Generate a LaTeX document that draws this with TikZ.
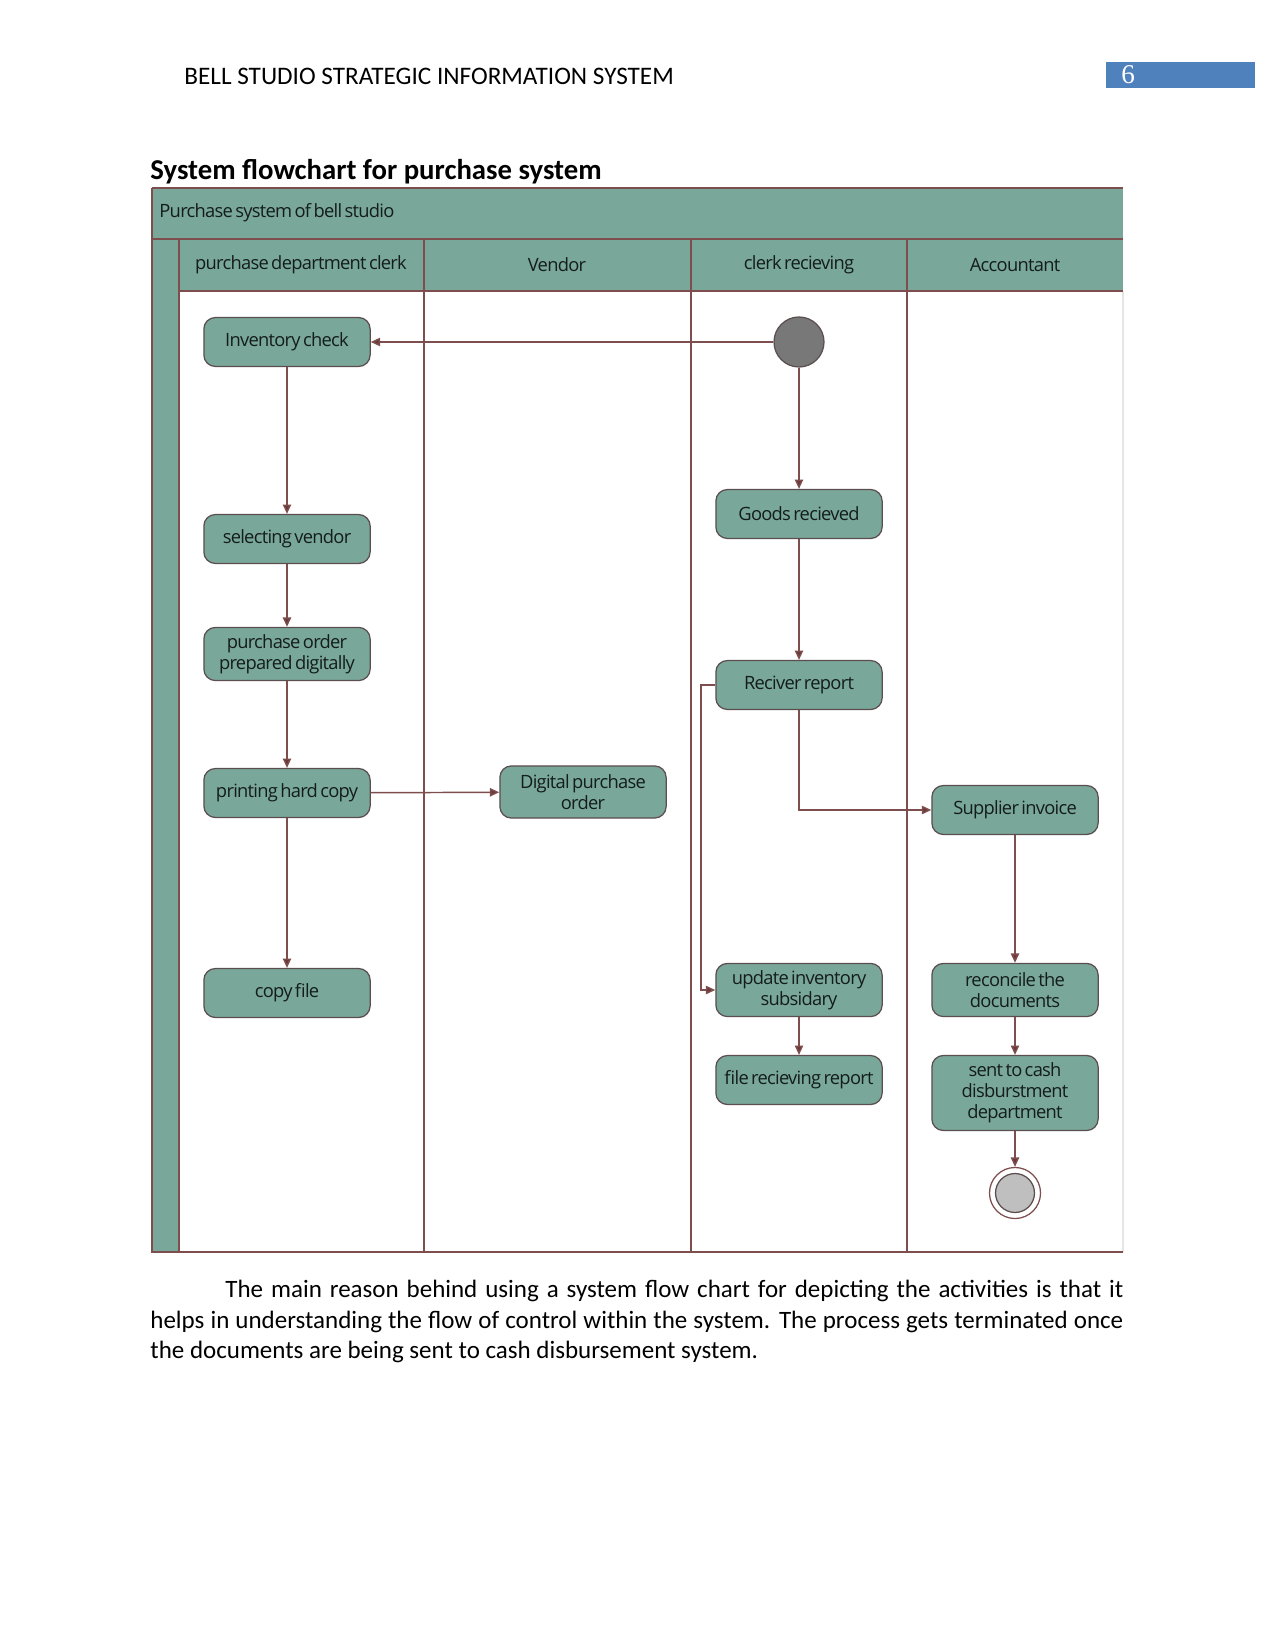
\documentclass[tikz,border=0pt]{standalone}
\usepackage{fontspec}
\setmainfont{Carlito}
\newfontfamily\nodefam{Open Sans}[LetterSpace=-4,WordSpace=0.6]
\newfontfamily\serfam{Liberation Serif}
\usetikzlibrary{arrows.meta}
\definecolor{tealc}{HTML}{79A89A}
\definecolor{lanec}{HTML}{7E4E4E}
\definecolor{bordc}{HTML}{5C4E4E}
\definecolor{arrc}{HTML}{6A3A3A}
\definecolor{headblue}{HTML}{4F81BD}
\definecolor{txtc}{HTML}{141C1C}
\begin{document}
\begin{tikzpicture}[x=0.48pt,y=-0.48pt,
  lane/.style={draw=lanec, line width=0.7pt},
  lbl/.style={inner sep=0pt, text=txtc, font=\nodefam\fontsize{8.8}{10}\selectfont},
  act/.style={draw=bordc, fill=tealc, rounded corners=5.5pt, line width=0.6pt,
    minimum width=79.8pt, minimum height=23.5pt, inner sep=1pt, align=center,
    text=txtc, font=\nodefam\fontsize{8.8}{10}\selectfont},
  arr/.style={draw=lanec, line width=0.7pt, -{Triangle[length=4.5pt,width=4pt,fill=arrc]}}
]
\useasboundingbox (0,0) rectangle (1275,1650);
\fill[white] (0,0) rectangle (1275,1650);

% page header
\node[anchor=west, inner sep=0pt, font=\fontsize{12.1}{14}\selectfont] (hdr) at (184,76) {BELL STUDIO STRATEGIC INFORMATION SYSTEM};
\node[fill=headblue, inner sep=0pt, minimum width=71.5pt, minimum height=12.5pt] (pbox) at (1180.5,75) {};
\node[anchor=west, inner sep=0pt, text=white, font=\serfam\fontsize{13}{15}\selectfont] (pnum) at (1121,75) {6};

% title
\node[anchor=west, inner sep=0pt, font=\bfseries\fontsize{13.8}{16}\selectfont] (title) at (150,172) {System flowchart for purchase system};

% swimlane frame
\fill[tealc] (152,188) rectangle (1123,291);
\fill[tealc] (152,291) rectangle (179,1252);
\draw[draw=black!10, line width=0.5pt] (1123,291) -- (1123,1252);
\draw[lane] (152,188) -- (1123,188);
\draw[lane] (152,239) -- (1123,239);
\draw[lane] (179,291) -- (1123,291);
\draw[lane] (152,188) -- (152,1252) -- (1123,1252);
\draw[lane] (179,239) -- (179,1252);
\draw[lane] (424,239) -- (424,1252);
\draw[lane] (691,239) -- (691,1252);
\draw[lane] (907,239) -- (907,1252);

\node[lbl, anchor=west] (sys) at (159,213) {Purchase system of bell studio};
\node[lbl] (h1) at (301,265) {purchase department clerk};
\node[lbl] (h2) at (557,265) {Vendor};
\node[lbl] (h3) at (799,265) {clerk recieving};
\node[lbl] (h4) at (1015,265) {Accountant};

% activities
\node[act] (inv) at (287,342) {Inventory check};
\node[act] (sel) at (287,539) {selecting vendor};
\node[act, minimum height=25.5pt] (po) at (287,654) {purchase order\\prepared digitally};
\node[act] (print) at (287,793) {printing hard copy};
\node[act] (copy) at (287,993) {copy file};
\node[act, minimum height=25pt] (dpo) at (583,792) {Digital purchase\\order};

\node[circle, draw=bordc, fill=black!53, line width=0.6pt, minimum size=24pt, inner sep=0pt] (start) at (799,342) {};
\node[act] (goods) at (799,514) {Goods recieved};
\node[act] (rr) at (799,685) {Reciver report};
\node[act, minimum height=25.5pt] (upd) at (799,990) {update inventory\\subsidary};
\node[act] (frr) at (799,1080) {file recieving report};

\node[act] (sup) at (1015,810) {Supplier invoice};
\node[act, minimum height=25.5pt] (rec) at (1015,990) {reconcile the\\documents};
\node[act, minimum height=36pt] (sent) at (1015,1093) {sent to cash\\disburstment\\department};
\node[circle, draw=lanec, fill=white, line width=0.6pt, minimum size=24.5pt, inner sep=0pt] (end) at (1015,1193) {};
\node[circle, draw=bordc, fill=black!25, line width=0.6pt, minimum size=18.7pt, inner sep=0pt] (endin) at (1015,1193) {};

% connectors
\coordinate (bend) at (701,685);
\draw[arr] (start) -- (inv);
\draw[arr] (start) -- (goods);
\draw[arr] (goods) -- (rr);
\draw[arr] (rr.south) |- (sup.west);
\draw[arr] (rr.west) -- (bend) |- (upd.west);
\draw[arr] (upd) -- (frr);
\draw[arr] (inv) -- (sel);
\draw[arr] (sel) -- (po);
\draw[arr] (po) -- (print);
\draw[arr] (print) -- (copy);
\draw[arr] (print) -- (dpo);
\draw[arr] (sup) -- (rec);
\draw[arr] (rec) -- (sent);
\draw[arr] (sent) -- (end);

% paragraph
\node[anchor=north west, inner sep=0pt, text width=467pt, align=justify,
  font=\fontsize{12}{14.6}\selectfont] (para) at (150,1280)
  {\hspace*{36pt}The main reason behind using a system flow chart for depicting the activities is that it helps in understanding the flow of control within the system. The process gets terminated once the documents are being sent to cash disbursement system.};
\end{tikzpicture}
\end{document}
